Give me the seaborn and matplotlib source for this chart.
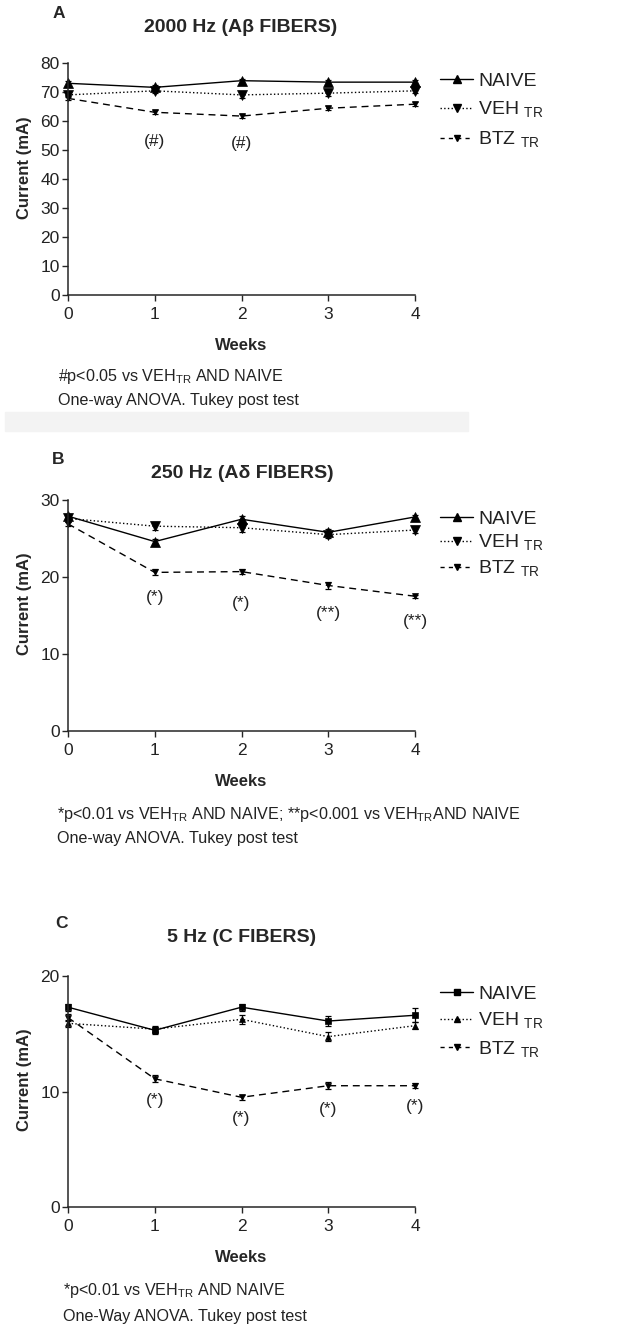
import numpy as np
import pandas as pd
import matplotlib
matplotlib.use("Agg")
import matplotlib.pyplot as plt
from matplotlib.lines import Line2D
from matplotlib.patches import Rectangle
import seaborn as sns

sns.set_style("ticks")
plt.rcParams['font.family'] = ['Liberation Sans', 'DejaVu Sans']
plt.rcParams['mathtext.fontset'] = 'custom'
plt.rcParams['mathtext.rm'] = 'Liberation Sans'

# ------------------------------------------------------------
# data
# ------------------------------------------------------------
weeks = [0, 1, 2, 3, 4]

# A: 2000 Hz
a_naive = [73.0, 71.6, 73.9, 73.4, 73.4]
a_veh = [69.0, 70.4, 69.0, 69.6, 70.4]
a_btz = [67.8, 63.0, 61.7, 64.4, 65.8]
a_naive_err = [0.8, 0.9, 0.7, 0.7, 0.7]
a_veh_err = [0.8, 0.8, 0.9, 0.9, 0.8]
a_btz_err = [0.7, 0.7, 0.6, 0.6, 0.6]
a_sig_x = [1, 2]
a_sig_y = [53.0, 52.4]
a_sig_txt = ["(#)", "(#)"]

# B: 250 Hz
b_naive = [27.9, 24.6, 27.5, 25.8, 27.8]
b_veh = [27.6, 26.6, 26.4, 25.5, 26.1]
b_btz = [26.9, 20.6, 20.7, 18.9, 17.5]
b_naive_err = [0.3, 0.3, 0.4, 0.4, 0.3]
b_veh_err = [0.4, 0.5, 0.5, 0.4, 0.4]
b_btz_err = [0.3, 0.4, 0.3, 0.4, 0.2]
b_sig_x = [1, 2, 3, 4]
b_sig_y = [17.3, 16.6, 15.3, 14.2]
b_sig_txt = ["(*)", "(*)", "(**)", "(**)"]

# C: 5 Hz
c_naive = [17.3, 15.3, 17.3, 16.1, 16.6]
c_veh = [15.9, 15.4, 16.25, 14.75, 15.7]
c_btz = [16.4, 11.1, 9.5, 10.5, 10.5]
c_naive_err = [0.3, 0.3, 0.3, 0.4, 0.6]
c_veh_err = [0.3, 0.3, 0.4, 0.4, 0.3]
c_btz_err = [0.3, 0.3, 0.2, 0.3, 0.2]
c_sig_x = [1, 2, 3, 4]
c_sig_y = [9.26, 7.7, 8.4, 8.7]
c_sig_txt = ["(*)", "(*)", "(*)", "(*)"]

labels = ["NAIVE", r"VEH $_{\mathregular{TR}}$", r"BTZ $_{\mathregular{TR}}$"]

W, H = 618, 1333
fig = plt.figure(figsize=(W / 100, H / 100), dpi=100)


def fx(px):
    return px / W


def fy(py):
    return 1 - py / H


DASH = (5, 3.5)


def draw_panel(top, bottom, ylim, yticks, series, errs, markers, msizes,
               sig_x, sig_y, sig_txt):
    ax = fig.add_axes([fx(68), fy(bottom), fx(415) - fx(68), fy(top) - fy(bottom)])
    styles = ['-', ':', '--']
    for vals, err, mk, ms, ls in zip(series, errs, markers, msizes, styles):
        kw = dict(dashes=DASH) if ls == '--' else dict(linestyle=ls)
        sns.lineplot(x=weeks, y=vals, ax=ax, color='black', marker=mk,
                     markersize=ms, markeredgecolor='black', markeredgewidth=0.5,
                     linewidth=1.0, legend=False, clip_on=False, **kw)
        ax.errorbar(weeks, vals, yerr=err, fmt='none', ecolor='black',
                    elinewidth=0.9, capsize=2.5, capthick=0.9, clip_on=False)
    for x, y, t in zip(sig_x, sig_y, sig_txt):
        ax.text(x, y, t, ha='center', va='center', fontsize=12.5, color='#222')
    ax.set_xlim(0, 4)
    ax.set_ylim(*ylim)
    ax.set_xticks(weeks)
    ax.set_yticks(yticks)
    ax.tick_params(axis='both', labelsize=12.5, labelcolor='#222', length=4,
                   width=1.0, direction='out')
    ax.tick_params(axis='x', pad=4.5)
    ax.tick_params(axis='y', pad=2)
    for s in ['top', 'right']:
        ax.spines[s].set_visible(False)
    for s in ['left', 'bottom']:
        ax.spines[s].set_linewidth(1.1)
    ax.set_xlabel("Weeks", fontsize=12, fontweight='bold', labelpad=12)
    ax.set_ylabel("Current (mA)", fontsize=12, fontweight='bold')
    ax.yaxis.set_label_coords(-0.104, 0.55)
    return ax


def add_legend(ax, markers, msizes, top_px, spacing):
    handles = []
    for mk, ms, ls in zip(markers, msizes, ['-', ':', '--']):
        h = Line2D([], [], color='black', marker=mk, markersize=ms, linewidth=1.0,
                   linestyle=ls)
        if ls == '--':
            h.set_dashes((3, 3))
        handles.append(h)
    ax.legend(handles, labels, loc='upper left', frameon=False,
              bbox_to_anchor=(fx(440), fy(top_px)), bbox_transform=fig.transFigure,
              borderpad=0, borderaxespad=0, handlelength=1.7, handletextpad=0.28,
              labelspacing=spacing, fontsize=14, labelcolor='#222')


def footnote(x, y1, y2, line1, line2):
    fig.text(fx(x), fy(y1), line1, fontsize=11.6, color='#222', va='center', ha='left')
    fig.text(fx(x), fy(y2), line2, fontsize=11.6, color='#222', va='center', ha='left')


# faint scan band under panel A
fig.patches.append(Rectangle((fx(5), fy(431)), fx(468) - fx(5), fy(412) - fy(431),
                             transform=fig.transFigure, color='#f3f3f3', zorder=0))

# ---- A
mk_a = ['^', 'v', 'v']
ms_a = [7, 7, 4.5]
ax_a = draw_panel(63, 295, (0, 80), range(0, 81, 10),
                  [a_naive, a_veh, a_btz], [a_naive_err, a_veh_err, a_btz_err],
                  mk_a, ms_a, a_sig_x, a_sig_y, a_sig_txt)
add_legend(ax_a, mk_a, [5.5, 5.5, 4], 72, 0.5)
fig.text(fx(53), fy(14), "A", fontsize=12.5, fontweight='bold', va='center')
fig.text(fx(241), fy(27), "2000 Hz (Aβ FIBERS)", fontsize=14, fontweight='bold',
         ha='center', va='center')
footnote(58, 376, 400, r"#p<0.05 vs VEH$_{\mathregular{TR}}$ AND NAIVE",
         "One-way ANOVA. Tukey post test")

# ---- B
mk_b = ['^', 'v', 'v']
ms_b = [7, 7, 4.5]
ax_b = draw_panel(500, 731, (0, 30), [0, 10, 20, 30],
                  [b_naive, b_veh, b_btz], [b_naive_err, b_veh_err, b_btz_err],
                  mk_b, ms_b, b_sig_x, b_sig_y, b_sig_txt)
add_legend(ax_b, mk_b, [5.5, 5.5, 4], 510, 0.28)
fig.text(fx(52), fy(459), "B", fontsize=12.5, fontweight='bold', va='center')
fig.text(fx(242), fy(473), "250 Hz (Aδ FIBERS)", fontsize=14, fontweight='bold',
         ha='center', va='center')
footnote(57, 814, 838,
         r"*p<0.01 vs VEH$_{\mathregular{TR}}$ AND NAIVE; **p<0.001 vs VEH$_{\mathregular{TR}}$AND NAIVE",
         "One-way ANOVA. Tukey post test")

# ---- C
mk_c = ['s', '^', 'v']
ms_c = [4.5, 4.5, 4.5]
ax_c = draw_panel(976, 1207, (0, 20), [0, 10, 20],
                  [c_naive, c_veh, c_btz], [c_naive_err, c_veh_err, c_btz_err],
                  mk_c, ms_c, c_sig_x, c_sig_y, c_sig_txt)
add_legend(ax_c, mk_c, [4, 4, 4], 985, 0.42)
fig.text(fx(55), fy(923), "C", fontsize=12.5, fontweight='bold', va='center')
fig.text(fx(242), fy(937), "5 Hz (C FIBERS)", fontsize=14, fontweight='bold',
         ha='center', va='center')
footnote(63, 1291, 1316, r"*p<0.01 vs VEH$_{\mathregular{TR}}$ AND NAIVE",
         "One-Way ANOVA. Tukey post test")

fig.savefig("out.png", dpi=100)
